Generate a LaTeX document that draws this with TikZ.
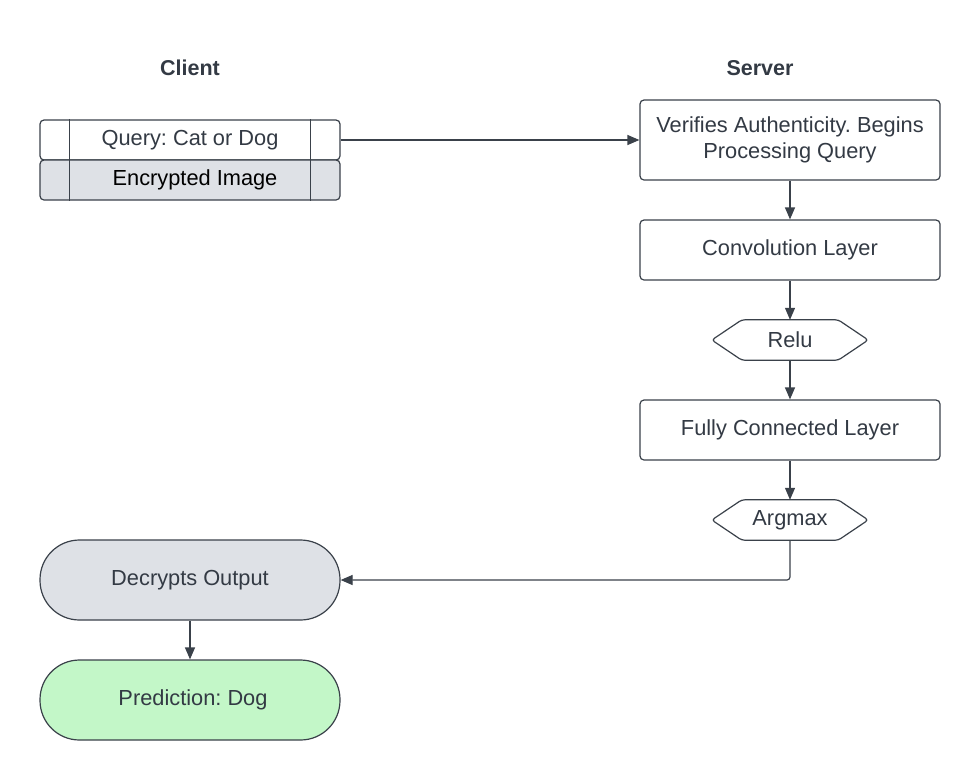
\documentclass[tikz,border=0pt]{standalone}
\usepackage{fontspec}
\setmainfont{Liberation Sans}
\usetikzlibrary{arrows.meta,calc}
\definecolor{ln}{HTML}{3A414A}
\definecolor{tx}{HTML}{333A44}
\definecolor{grayfill}{HTML}{DEE1E6}
\definecolor{greenfill}{HTML}{C3F7C8}
\frenchspacing
\begin{document}
\begin{tikzpicture}[x=1pt,y=-1pt,
  txt/.style={text=tx, font=\frenchspacing\fontsize{21.8}{27}\selectfont, align=center, inner sep=0pt},
  box/.style={txt, draw=ln, line width=1.2pt, rounded corners=4pt, fill=white, minimum width=300pt, minimum height=60pt},
  stadium/.style={box, rounded corners=39.5pt, minimum height=80pt},
  hexnode/.style={txt, minimum width=156pt, minimum height=40pt},
  hexline/.style={draw=ln, line width=1.2pt, rounded corners=3pt},
  head/.style={text=tx, font=\bfseries\fontsize{21.5}{26}\selectfont, inner sep=0pt},
  arr/.style={draw=ln, line width=1.2pt, -{Triangle[length=12pt,width=10pt]}},
  sep/.style={draw=ln, line width=1.2pt}
]
\useasboundingbox (0,0) rectangle (980,780);

\node[head] (client) at (190,68) {Client};
\node[head] (server) at (760,68) {Server};

\node[box, minimum height=40pt] (query) at (190,140) {\raisebox{1pt}{Query: Cat or Dog}};
\node[box, minimum height=40pt, fill=grayfill, text=black] (enc) at (190,180) {\raisebox{1pt}{\hspace*{10pt}Encrypted Image}};
\foreach \n in {query,enc}{
  \draw[sep] ($(\n.north west)+(30,0)$) -- ($(\n.south west)+(30,0)$);
  \draw[sep] ($(\n.north east)+(-30,0)$) -- ($(\n.south east)+(-30,0)$);
}

\node[box, minimum height=80pt] (ver) at (790,140) {\raisebox{2pt}{\begin{tabular}{@{}c@{}}Verifies Authenticity. Begins\\[-1pt]Processing Query\end{tabular}}};
\node[box] (conv) at (790,250) {\raisebox{1pt}{Convolution Layer}};
\node[hexnode] (relu) at (790,340) {\raisebox{1pt}{Relu}};
\node[box] (fc) at (790,430) {\raisebox{1pt}{Fully Connected Layer}};
\node[hexnode] (argm) at (790,520) {\raisebox{1pt}{Argmax}};
\foreach \n in {relu,argm}{
  \draw[hexline] (\n.west) -- ($(\n.north west)+(30,0)$) -- ($(\n.north east)+(-30,0)$) -- (\n.east) -- ($(\n.south east)+(-30,0)$) -- ($(\n.south west)+(30,0)$) -- cycle;
}

\node[stadium, fill=grayfill] (dec) at (190,580) {\raisebox{1pt}{Decrypts Output}};
\node[stadium, fill=greenfill] (pred) at (190,700) {\raisebox{1pt}{\hspace*{6pt}Prediction: Dog}};

\draw[arr] (query.east) -- (ver.west);
\draw[arr] (ver.south) -- (conv.north);
\draw[arr] (conv.south) -- (relu.north);
\draw[arr] (relu.south) -- (fc.north);
\draw[arr] (fc.south) -- (argm.north);
\draw[arr, rounded corners=3pt] (argm.south) |- (dec.east);
\draw[arr] (dec.south) -- (pred.north);
\end{tikzpicture}
\end{document}
